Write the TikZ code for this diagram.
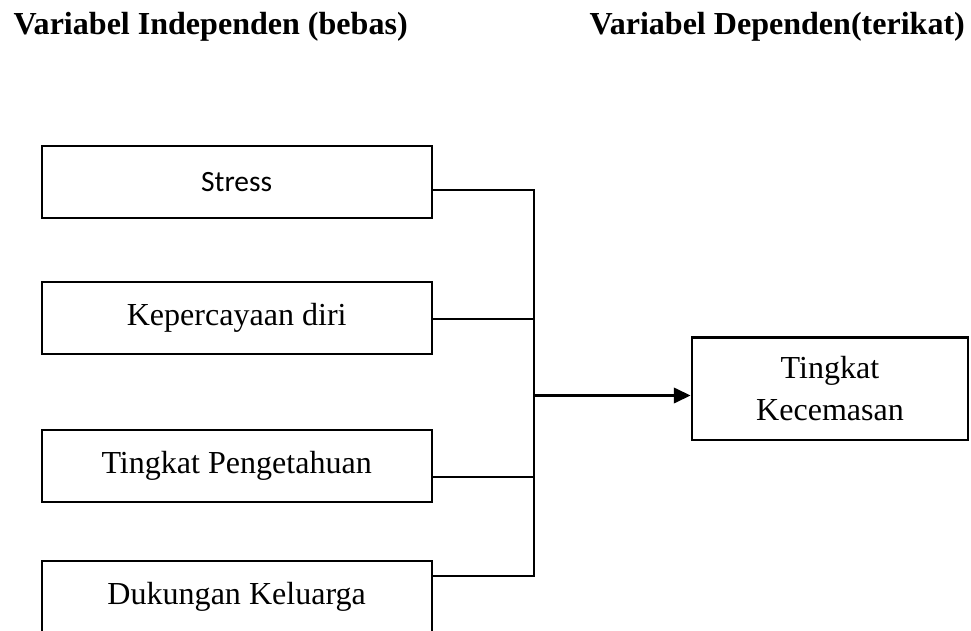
\documentclass[tikz,border=0pt]{standalone}
\usepackage{fontspec}
\setmainfont{Liberation Serif}
\newfontfamily\calibrifont{Carlito}
\usepackage{tikz}
\usetikzlibrary{arrows.meta,positioning}

\begin{document}
\begin{tikzpicture}[x=0.39pt,y=-0.39pt,
  every node/.style={font=\fontsize{12.5}{16.4}\selectfont,inner sep=0pt},
  varbox/.style={draw,line width=0.85pt,minimum width=152.1pt,minimum height=28.2pt},
  judul/.style={anchor=base west,font=\bfseries\fontsize{12.5}{14}\selectfont},
  link/.style={line width=0.6pt}]
  \useasboundingbox (0,0) rectangle (971,630);
  \clip (0,0) rectangle (971,630);
  \node[judul] (jbebas) at (13,35) {Variabel Independen (bebas)};
  \node[judul] (jterikat) at (589,35) {Variabel Dependen(terikat)};
  \node[varbox,font=\calibrifont\fontsize{11.5}{13}\selectfont] (stress) at (236.7,182) {Stress};
  \node[varbox] (percaya) at (236.7,318) {Kepercayaan diri};
  \node[varbox] (tahu) at (236.7,466) {Tingkat Pengetahuan};
  \node[varbox] (dukung) at (236.7,597) {Dukungan Keluarga};
  \node[varbox,align=center,minimum width=107.9pt,minimum height=40pt]
    (cemas) at (830,388.7) {Tingkat\\Kecemasan};
  \coordinate (t1) at (534,190);
  \coordinate (t2) at (534,319);
  \coordinate (t3) at (534,477);
  \coordinate (t4) at (534,576);
  \coordinate (hub) at (534,395.5);
  \draw[link] (stress.east |- t1) -- (t1) -- (t4) -- (dukung.east |- t4);
  \draw[link] (percaya.east |- t2) -- (t2);
  \draw[link] (tahu.east |- t3) -- (t3);
  \draw[link,line width=0.9pt,-{Triangle[length=6.5pt,width=6pt]}]
    (hub) -- (cemas.west |- hub);
\end{tikzpicture}
\end{document}
